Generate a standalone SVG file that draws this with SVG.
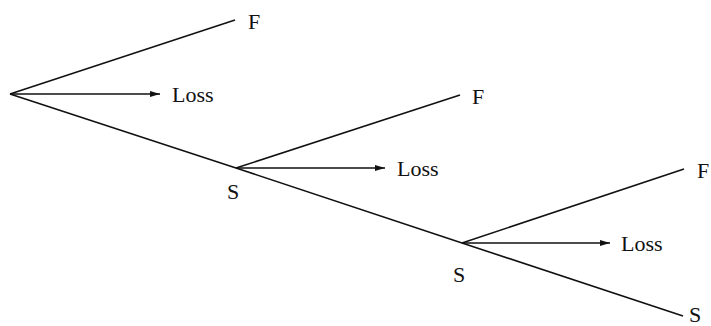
<svg xmlns="http://www.w3.org/2000/svg" width="711" height="326" viewBox="0 0 711 326">
<style>
.l{stroke:#111;stroke-width:1.6;fill:none}
.a{stroke:#111;stroke-width:1.4;fill:none;marker-end:url(#ah)}
text{font-family:"Liberation Serif","DejaVu Serif",serif;font-size:22px;fill:#111}
</style>
<defs>
<marker id="ah" viewBox="0 0 10 6" refX="10" refY="3" markerWidth="10" markerHeight="6" markerUnits="userSpaceOnUse" orient="auto">
<path d="M0,0 L10,3 L0,6 Z" fill="#111"/>
</marker>
</defs>
<rect width="711" height="326" fill="#fff"/>
<g id="connectors">
<path class="l" d="M10,94 L236,168 L462,243 L683,316"/>
<path class="l" d="M10,94 L235,20"/>
<path class="l" d="M236,168 L460,95"/>
<path class="l" d="M462,243 L684,169"/>
<path class="a" d="M10,94 L160,94"/>
<path class="a" d="M236,168 L385,168"/>
<path class="a" d="M462,243 L610,243"/>
</g>
<g id="n0"><text x="248" y="29">F</text><text x="172" y="102">Loss</text></g>
<g id="n1"><text x="472" y="104">F</text><text x="397" y="176">Loss</text><text x="227" y="199">S</text></g>
<g id="n2"><text x="697" y="178">F</text><text x="621" y="251">Loss</text><text x="453" y="282">S</text></g>
<g id="n3"><text x="689" y="322">S</text></g>
</svg>
